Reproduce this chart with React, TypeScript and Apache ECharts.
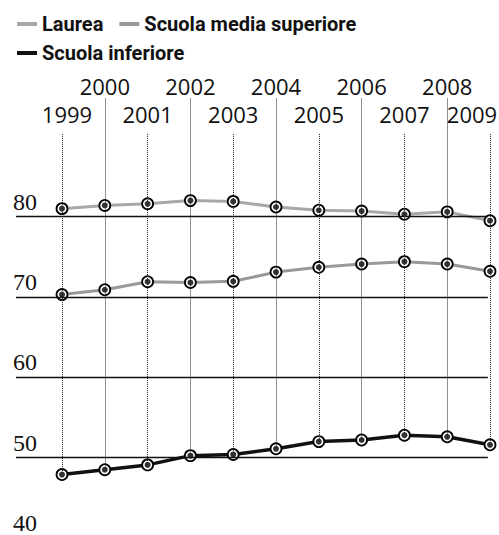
import React, { useEffect, useRef } from "react";
import * as echarts from "echarts";

const years = [1999, 2000, 2001, 2002, 2003, 2004, 2005, 2006, 2007, 2008, 2009];
const oddYears = [1999, 2001, 2003, 2005, 2007, 2009];
const evenYears = [2000, 2002, 2004, 2006, 2008];
const laurea = [81.0, 81.4, 81.6, 82.0, 81.9, 81.2, 80.8, 80.7, 80.3, 80.6, 79.5];
const mediaSuperiore = [70.3, 70.9, 71.9, 71.8, 71.95, 73.1, 73.7, 74.1, 74.4, 74.1, 73.2];
const inferiore = [47.9, 48.5, 49.1, 50.25, 50.4, 51.1, 52.0, 52.2, 52.8, 52.6, 51.6];
const gridValues = [50, 60, 70, 80];
const yTickLabels = [40, 50, 60, 70, 80];

const X_MIN = 1997.925;
const X_MAX = 2009.21;
const H_LINE_END = 2008.95;
const TOP_EVEN = 94.7;
const TOP_ODD = 90.3;

const SANS = "'Open Sans', sans-serif";
const SERIF = "'Liberation Serif', serif";

export default function App() {
  const ref = useRef<HTMLDivElement>(null);
  useEffect(() => {
    if (!ref.current) return;
    const chart = echarts.init(ref.current, null, { renderer: "svg" });
    const pts = (arr: number[]) => years.map((y, i) => [y, arr[i]]);
    const markerStyle = { color: "#fff", borderColor: "#000", borderWidth: 1.8 };

    const hLines = gridValues.map((v) => [
      { coord: [X_MIN, v], lineStyle: { type: "solid", width: 1.4, color: "#111" } },
      { coord: [H_LINE_END, v], lineStyle: { type: "solid", width: 1.4, color: "#111" } },
    ]);
    const vLines = years.map((yr, i) => {
      const top = yr % 2 === 0 ? TOP_EVEN : TOP_ODD;
      const ls = { type: "dotted", width: 1, color: "#222" };
      return [
        { coord: [yr, top], lineStyle: ls },
        { coord: [yr, inferiore[i]], lineStyle: ls },
      ];
    });

    const legendText = { fontFamily: "Roboto", fontWeight: "bold", fontSize: 20, color: "#111" };
    const lab = { fontFamily: SANS, fontSize: 22, lineHeight: 22, color: "#111" };

    const xBase = {
      type: "value",
      position: "top",
      min: X_MIN,
      max: X_MAX,
      axisLine: { show: false },
      axisTick: { show: false },
      splitLine: { show: false },
    };

    chart.setOption({
      animation: false,
      backgroundColor: "#fff",
      grid: { left: 16, top: 56, height: 482, width: 499 - 16, outerBoundsMode: "none", containLabel: false },
      legend: [
        {
          left: 12,
          top: 9,
          icon: "rect",
          itemWidth: 20,
          itemHeight: 4,
          itemGap: 16,
          textStyle: legendText,
          data: [
            { name: "Laurea", itemStyle: { color: "#a8a8a8", borderWidth: 0 } },
            { name: "Scuola media superiore", itemStyle: { color: "#999", borderWidth: 0 } },
          ],
        },
        {
          left: 12,
          top: 38,
          icon: "rect",
          itemWidth: 20,
          itemHeight: 4,
          textStyle: legendText,
          data: [{ name: "Scuola inferiore", itemStyle: { color: "#111", borderWidth: 0 } }],
        },
      ],
      xAxis: [
        {
          ...xBase,
          offset: -69,
          axisLabel: {
            customValues: oddYears,
            margin: 0,
            showMinLabel: true,
            showMaxLabel: true,
            hideOverlap: false,
            verticalAlign: "bottom",
            fontFamily: SANS,
            fontSize: 22,
            formatter: (v: number) => {
              const y = Math.round(v);
              if (y === 2009) return `{l|${y}}`;
              if (y === 1999) return `{f|${y}}`;
              return `{o|${y}}`;
            },
            rich: {
              o: { ...lab },
              f: { ...lab, padding: [0, 0, 0, 10] },
              l: { ...lab, padding: [0, 36, 0, 0] },
            },
          },
        },
        {
          ...xBase,
          offset: -41,
          axisLabel: {
            customValues: evenYears,
            margin: 0,
            showMinLabel: true,
            showMaxLabel: true,
            hideOverlap: false,
            verticalAlign: "bottom",
            fontFamily: SANS,
            fontSize: 22,
            formatter: (v: number) => `{o|${Math.round(v)}}`,
            rich: { o: { ...lab } },
          },
        },
      ],
      yAxis: {
        type: "value",
        min: 40,
        max: 100,
        interval: 10,
        axisLine: { show: false },
        axisTick: { show: false },
        splitLine: { show: false },
        axisLabel: {
          customValues: yTickLabels,
          align: "left",
          verticalAlign: "bottom",
          margin: 3,
          padding: [0, 0, 3, 0],
          fontFamily: SERIF,
          fontSize: 24,
          color: "#111",
          formatter: (v: number) => (v <= 80 ? String(v) : ""),
        },
      },
      series: [
        {
          name: "grid",
          type: "line",
          data: pts(inferiore),
          symbol: "none",
          lineStyle: { width: 0, opacity: 0 },
          silent: true,
          z: 1,
          markLine: {
            silent: true,
            symbol: ["none", "none"],
            label: { show: false },
            data: [...hLines, ...vLines],
          },
        },
        {
          name: "Laurea",
          type: "line",
          data: pts(laurea),
          symbol: "circle",
          symbolSize: 11,
          lineStyle: { color: "#a8a8a8", width: 3 },
          itemStyle: markerStyle,
          z: 3,
        },
        {
          name: "Scuola media superiore",
          type: "line",
          data: pts(mediaSuperiore),
          symbol: "circle",
          symbolSize: 11,
          lineStyle: { color: "#999", width: 3 },
          itemStyle: markerStyle,
          z: 3,
        },
        {
          name: "Scuola inferiore",
          type: "line",
          data: pts(inferiore),
          symbol: "circle",
          symbolSize: 11,
          lineStyle: { color: "#111", width: 3.5 },
          itemStyle: markerStyle,
          z: 3,
        },
        {
          name: "dots",
          type: "scatter",
          data: [...pts(laurea), ...pts(mediaSuperiore), ...pts(inferiore)],
          symbolSize: 6,
          itemStyle: { color: "#000" },
          silent: true,
          z: 4,
        },
      ],
    });
    return () => chart.dispose();
  }, []);
  return (
    <div
      ref={ref}
      style={{ position: "fixed", left: 0, top: 0, width: 499, height: 535, background: "#fff" }}
    />
  );
}
